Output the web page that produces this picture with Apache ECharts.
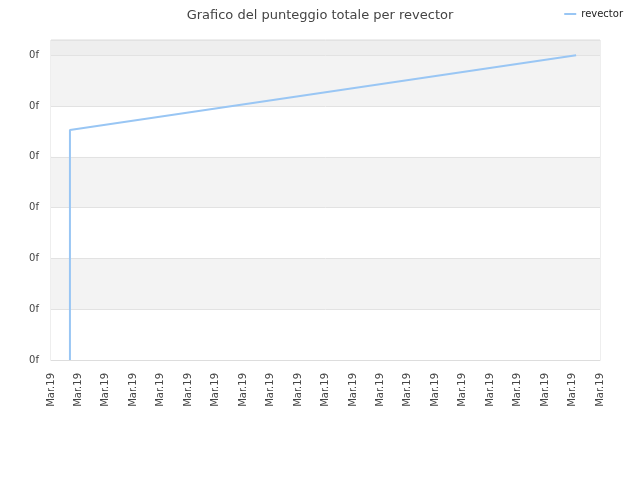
<!DOCTYPE html>
<html>
<head>
<meta charset="utf-8">
<script src="https://cdn.jsdelivr.net/npm/echarts@6/dist/echarts.min.js"></script>
<style>html,body{margin:0;padding:0;background:#fff}#c{width:640px;height:480px}</style>
</head>
<body>
<div id="c"></div>
<script>
var seriesName = 'revector';
var xValues = [0.69, 0.69, 19.13];
var yValues = [0, 4.53, 6.0];
var xTickLabel = 'Mar.19';
var yTickLabel = '0f';

var chart = echarts.init(document.getElementById('c'), null, {renderer: 'canvas'});
var data = xValues.map(function (x, i) { return [x, yValues[i]]; });
chart.setOption({
  animation: false,
  backgroundColor: '#ffffff',
  title: {
    text: 'Grafico del punteggio totale per revector',
    left: 'center', top: 4,
    textStyle: {fontFamily: 'DejaVu Sans', fontSize: 13, fontWeight: 'normal', color: '#444'}
  },
  legend: {
    right: 12, top: 4,
    itemWidth: 12, itemHeight: 2, itemGap: 6,
    icon: 'rect',
    textStyle: {fontFamily: 'DejaVu Sans', fontSize: 10, color: '#222'},
    data: [seriesName]
  },
  grid: {left: 51, right: 40, top: 40, bottom: 120, containLabel: false, show: true, borderColor: '#ddd', borderWidth: 1, backgroundColor: 'transparent'},
  xAxis: {
    type: 'value', min: 0, max: 20, interval: 1,
    axisLine: {show: true, lineStyle: {color: '#ddd'}},
    axisTick: {show: false},
    splitLine: {show: false},
    axisLabel: {
      rotate: 90, margin: 13, color: '#444',
      fontFamily: 'DejaVu Sans', fontSize: 10,
      formatter: function () { return xTickLabel; }
    }
  },
  yAxis: {
    type: 'value', min: 0, max: 6.3, interval: 1,
    axisLine: {show: false},
    axisTick: {show: false},
    splitLine: {show: true, lineStyle: {color: '#e2e2e2'}},
    splitArea: {show: true, areaStyle: {color: ['#ffffff', '#f3f3f3', '#ffffff', '#f3f3f3', '#ffffff', '#f3f3f3', '#eeeeee']}},
    axisLabel: {
      margin: 12, color: '#444', fontFamily: 'DejaVu Sans', fontSize: 10,
      showMaxLabel: false,
      formatter: function (v) { return v > 6.01 ? '' : yTickLabel; }
    }
  },
  series: [{
    name: seriesName,
    type: 'line',
    data: data,
    showSymbol: false,
    symbol: 'none',
    lineStyle: {color: '#99c6f4', width: 2},
    itemStyle: {color: '#99c6f4'}
  }]
});
</script>
</body>
</html>
